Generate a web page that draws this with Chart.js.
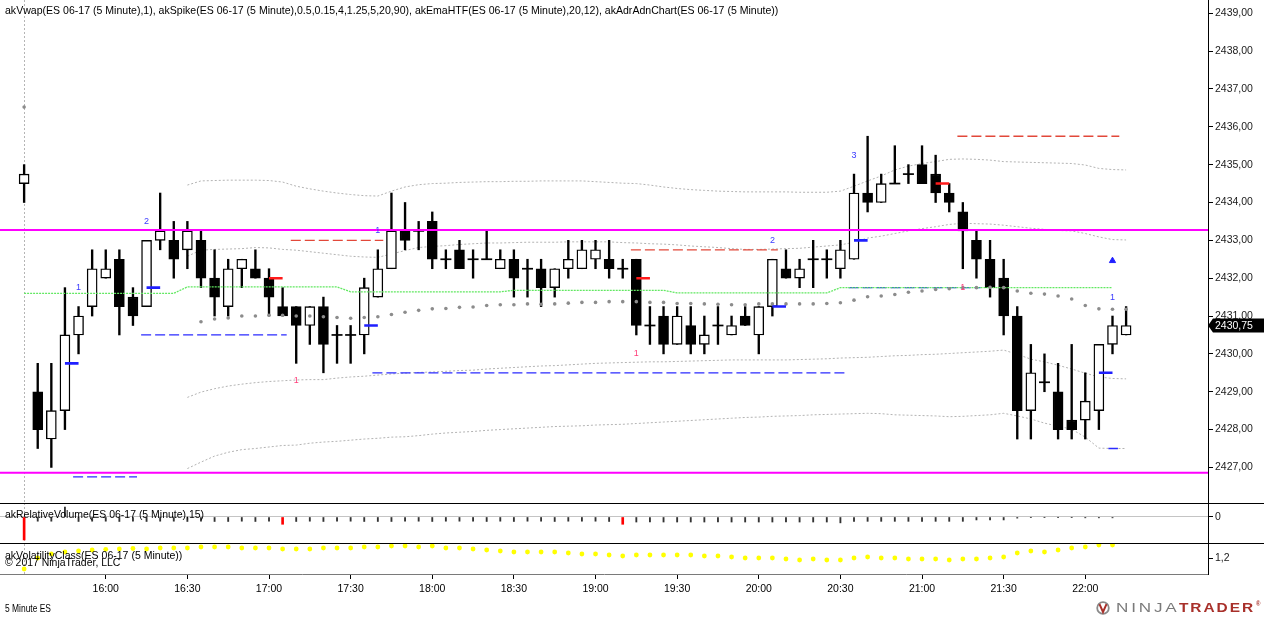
<!DOCTYPE html>
<html>
<head>
<meta charset="utf-8">
<title>ES 06-17 (5 Minute)</title>
<script src="https://cdn.jsdelivr.net/npm/chart.js@4.4.1/dist/chart.umd.min.js"></script>
<style>
  html, body { margin: 0; padding: 0; background: #fff; }
  #wrap { position: relative; width: 1264px; height: 617px; overflow: hidden; font-family: "Liberation Sans", Arial, sans-serif; }
  canvas { position: absolute; left: 0; }
  .lbl { position: absolute; white-space: nowrap; font-size: 11px; line-height: 12px; color: #000; transform-origin: 0 50%; }
  .sep { position: absolute; left: 0; width: 1264px; height: 1px; background: #000; }
  .logoA { color: #7a7a7a; font-size: 12px; letter-spacing: 2px; }
  .logoB { color: #a8302a; font-size: 12px; font-weight: bold; letter-spacing: 1.5px; }
</style>
</head>
<body>
<div id="wrap">
  <canvas id="priceChart" width="1264" height="503" style="top:0"></canvas>
  <canvas id="volChart" width="1264" height="41" style="top:503px"></canvas>
  <canvas id="vcChart" width="1264" height="73" style="top:544px"></canvas>
  <div class="sep" style="top:503px"></div>
  <div class="sep" style="top:543px"></div>

  <div class="lbl" data-x="5" data-cy="10" data-w="773">akVwap(ES 06-17 (5 Minute),1), akSpike(ES 06-17 (5 Minute),0.5,0.15,4,1.25,5,20,90), akEmaHTF(ES 06-17 (5 Minute),20,12), akAdrAdnChart(ES 06-17 (5 Minute))</div>
  <div class="lbl" data-x="5" data-cy="514" data-w="199">akRelativeVolume(ES 06-17 (5 Minute),15)</div>
  <div class="lbl" data-x="5" data-cy="554.5" data-w="177">akVolatilityClass(ES 06-17 (5 Minute))</div>
  <div class="lbl" data-x="5" data-cy="561.5" data-w="115">© 2017 NinjaTrader, LLC</div>
  <div class="lbl" data-x="5" data-cy="607.5" data-w="46">5 Minute ES</div>

  <svg style="position:absolute;left:1094px;top:601px" width="20" height="14" viewBox="0 0 20 14">
    <circle cx="9" cy="7" r="5.8" fill="none" stroke="#8a8a8a" stroke-width="1.8"/>
    <path d="M5.5 3.2 L9 11 L12.5 3.2" fill="none" stroke="#a8302a" stroke-width="2"/>
  </svg>
  <div class="lbl logoA" data-x="1116" data-cy="608" data-w="64">NINJA</div>
  <div class="lbl logoB" data-x="1179" data-cy="608" data-w="76">TRADER</div>
  <div class="lbl logoB" style="font-size:7px" data-x="1256" data-cy="604" data-w="6">®</div>
</div>

<script>
// bars start at 15:30, one every 5 minutes
const firstBarTime = '15:30';
const barMinutes = 5;
const timeLabels = ['16:00', '16:30', '17:00', '17:30', '18:00', '18:30', '19:00', '19:30', '20:00', '20:30', '21:00', '21:30', '22:00'];
const priceTicks = [2427, 2428, 2429, 2430, 2431, 2432, 2433, 2434, 2435, 2436, 2437, 2438, 2439];

const opens = [2434.5, 2429, 2427.75, 2428.5, 2430.5, 2431.25, 2432, 2432.5, 2431.5, 2431.25,
  2433, 2433, 2432.75, 2433, 2432, 2431.25, 2432.25, 2432.25, 2432, 2431.25,
  2431.25, 2430.75, 2431.25, 2430.5, 2430.5, 2430.5, 2431.5, 2432.25, 2433.25, 2433.25,
  2433.5, 2432.5, 2432.75, 2432.5, 2432.5, 2432.25, 2432.5, 2432.25, 2432.25, 2431.75,
  2432.25, 2432.25, 2432.5, 2432.5, 2432.25, 2432.5, 2430.75, 2431, 2430.25, 2430.75,
  2430.25, 2430.75, 2430.5, 2431, 2430.5, 2431.25, 2432.25, 2432, 2432.5, 2432.5,
  2432.25, 2432.5, 2434.25, 2434, 2434.5, 2434.75, 2435, 2434.75, 2434.25, 2433.75,
  2433, 2432.5, 2432, 2431, 2428.5, 2429.25, 2429, 2428.25, 2428.25, 2428.5,
  2430.25, 2430.5];
const highs = [2435, 2429.75, 2429.75, 2431.75, 2431.25, 2432.75, 2432.75, 2432.75, 2431.75, 2433,
  2434.25, 2433.5, 2433.5, 2433.25, 2432.75, 2432.5, 2432.5, 2432.75, 2432.25, 2431.75,
  2431.25, 2431.25, 2431.5, 2430.75, 2430.75, 2432, 2432.75, 2434.25, 2434, 2433.5,
  2433.75, 2432.75, 2433, 2432.75, 2433.25, 2432.75, 2432.75, 2432.5, 2432.5, 2432.25,
  2433, 2433, 2433, 2433, 2432.5, 2432.5, 2431.25, 2431.25, 2431.25, 2431.25,
  2431, 2431.25, 2431, 2431.25, 2431.25, 2432.5, 2432.75, 2432.5, 2433, 2432.75,
  2433, 2434.75, 2435.75, 2434.75, 2435.5, 2435, 2435.5, 2435.25, 2434.5, 2434,
  2433.25, 2433, 2432.5, 2431.25, 2430.25, 2430, 2429.75, 2430.25, 2429.5, 2430.25,
  2431, 2431.25];
const lows = [2434, 2427.5, 2427, 2428, 2430, 2431, 2432, 2430.5, 2430.75, 2431.25,
  2432.75, 2432, 2432.25, 2431.75, 2431, 2431, 2431.75, 2432, 2431, 2431,
  2429.75, 2430.25, 2429.5, 2429.75, 2429.75, 2430, 2431.5, 2432.25, 2432.75, 2432.75,
  2432.25, 2432.25, 2432.25, 2432, 2432.5, 2432.25, 2431.5, 2431.5, 2431.25, 2431.5,
  2432, 2432.25, 2432.25, 2432, 2432, 2430.5, 2430.25, 2430, 2430.25, 2430,
  2430, 2430.25, 2430.5, 2430.75, 2430, 2431, 2432, 2431.75, 2431.75, 2432,
  2432, 2432.5, 2433.75, 2434, 2434.5, 2434.5, 2434.5, 2434, 2433.75, 2432.25,
  2432, 2431.5, 2430.5, 2427.75, 2427.75, 2429, 2427.75, 2427.75, 2427.75, 2428,
  2430, 2430.5];
const closes = [2434.75, 2428, 2428.5, 2430.5, 2431, 2432.25, 2432.25, 2431.25, 2431, 2433,
  2433.25, 2432.5, 2433.25, 2432, 2431.5, 2432.25, 2432.5, 2432, 2431.5, 2431,
  2430.75, 2431.25, 2430.25, 2430.5, 2430.5, 2431.75, 2432.25, 2433.25, 2433, 2433.25,
  2432.5, 2432.5, 2432.25, 2432.5, 2432.5, 2432.5, 2432, 2432.25, 2431.75, 2432.25,
  2432.5, 2432.75, 2432.75, 2432.25, 2432.25, 2430.75, 2430.75, 2430.25, 2431, 2430.25,
  2430.5, 2430.75, 2430.75, 2430.75, 2431.25, 2432.5, 2432, 2432.25, 2432.5, 2432.5,
  2432.75, 2434.25, 2434, 2434.5, 2434.5, 2434.75, 2434.5, 2434.25, 2434, 2433.25,
  2432.5, 2431.75, 2431, 2428.5, 2429.5, 2429.25, 2428, 2428, 2428.75, 2430.25,
  2430.75, 2430.75];

// akVwap line (dots) and its bands
const vwap = [2436.52, null, null, null, null, null, null, null, null, null, null, null, null,
  2430.85, 2430.92, 2430.95, 2431.00, 2431.00, 2431.02, 2431.02, 2431.00, 2431.00, 2430.98,
  2430.96, 2430.94, 2430.96, 2430.98, 2431.04, 2431.10, 2431.15, 2431.19, 2431.20, 2431.23,
  2431.24, 2431.28, 2431.30, 2431.30, 2431.32, 2431.31, 2431.32, 2431.34, 2431.36, 2431.36,
  2431.38, 2431.38, 2431.38, 2431.36, 2431.36, 2431.33, 2431.33, 2431.32, 2431.31, 2431.30,
  2431.30, 2431.32, 2431.32, 2431.32, 2431.32, 2431.32, 2431.33, 2431.35, 2431.42, 2431.51,
  2431.53, 2431.57, 2431.63, 2431.66, 2431.70, 2431.72, 2431.75, 2431.75, 2431.76, 2431.75,
  2431.66, 2431.60, 2431.58, 2431.53, 2431.45, 2431.28, 2431.19, 2431.18, 2431.18];
const upperOuter = [null, null, null, null, null, null, null, null, null, null, null, null,
  2434.46, 2434.57, 2434.58, 2434.59, 2434.59, 2434.59, 2434.58, 2434.54, 2434.43, 2434.36,
  2434.30, 2434.25, 2434.21, 2434.18, 2434.17, 2434.30, 2434.41, 2434.47, 2434.50, 2434.51,
  2434.53, 2434.54, 2434.55, 2434.55, 2434.56, 2434.56, 2434.57, 2434.57, 2434.57, 2434.57,
  2434.55, 2434.53, 2434.51, 2434.50, 2434.46, 2434.41, 2434.37, 2434.34, 2434.32, 2434.30,
  2434.29, 2434.28, 2434.28, 2434.28, 2434.28, 2434.27, 2434.27, 2434.27, 2434.30, 2434.43,
  2434.57, 2434.70, 2434.86, 2434.96, 2435.03, 2435.08, 2435.14, 2435.15, 2435.14, 2435.12,
  2435.08, 2435.07, 2435.06, 2435.05, 2435.04, 2435.03, 2434.99, 2434.90, 2434.87, 2434.86];
const upperInner = [null, null, null, null, null, null, null, null, null, null, null, null,
  2432.58, 2432.74, 2432.76, 2432.77, 2432.78, 2432.81, 2432.80, 2432.76, 2432.74, 2432.70,
  2432.66, 2432.62, 2432.58, 2432.56, 2432.55, 2432.64, 2432.73, 2432.81, 2432.84, 2432.86,
  2432.89, 2432.91, 2432.93, 2432.93, 2432.94, 2432.95, 2432.95, 2432.95, 2432.96, 2432.96,
  2432.96, 2432.96, 2432.94, 2432.93, 2432.91, 2432.90, 2432.88, 2432.85, 2432.83, 2432.81,
  2432.78, 2432.76, 2432.76, 2432.77, 2432.78, 2432.79, 2432.82, 2432.85, 2432.88, 2432.95,
  2433.06, 2433.11, 2433.18, 2433.25, 2433.31, 2433.36, 2433.42, 2433.45, 2433.44, 2433.43,
  2433.40, 2433.36, 2433.32, 2433.29, 2433.26, 2433.25, 2433.18, 2433.09, 2433.02, 2433.01];
const lowerInner = [null, null, null, null, null, null, null, null, null, null, null, null,
  2428.85, 2428.99, 2429.08, 2429.15, 2429.20, 2429.24, 2429.27, 2429.29, 2429.31, 2429.32,
  2429.32, 2429.36, 2429.39, 2429.41, 2429.44, 2429.47, 2429.49, 2429.51, 2429.52, 2429.54,
  2429.56, 2429.57, 2429.60, 2429.62, 2429.64, 2429.66, 2429.68, 2429.69, 2429.71, 2429.73,
  2429.75, 2429.76, 2429.77, 2429.78, 2429.79, 2429.79, 2429.80, 2429.81, 2429.82, 2429.83,
  2429.84, 2429.84, 2429.84, 2429.84, 2429.84, 2429.85, 2429.86, 2429.87, 2429.89, 2429.90,
  2429.91, 2429.93, 2429.95, 2429.96, 2429.98, 2429.99, 2430.01, 2430.03, 2430.05, 2430.07,
  2430.10, 2429.99, 2429.86, 2429.79, 2429.70, 2429.60, 2429.49, 2429.39, 2429.35, 2429.34];
const lowerOuter = [null, null, null, null, null, null, null, null, null, null, null, null,
  2426.97, 2427.14, 2427.30, 2427.40, 2427.47, 2427.50, 2427.54, 2427.58, 2427.59, 2427.64,
  2427.67, 2427.69, 2427.72, 2427.75, 2427.77, 2427.80, 2427.81, 2427.84, 2427.88, 2427.91,
  2427.93, 2427.95, 2427.98, 2428.00, 2428.02, 2428.04, 2428.06, 2428.08, 2428.09, 2428.10,
  2428.12, 2428.13, 2428.14, 2428.16, 2428.18, 2428.20, 2428.22, 2428.24, 2428.26, 2428.28,
  2428.30, 2428.32, 2428.33, 2428.35, 2428.36, 2428.37, 2428.39, 2428.40, 2428.41, 2428.42,
  2428.43, 2428.42, 2428.39, 2428.38, 2428.37, 2428.36, 2428.34, 2428.35, 2428.37, 2428.39,
  2428.43, 2428.36, 2428.28, 2428.17, 2428.09, 2428.01, 2427.80, 2427.51, 2427.50, 2427.50];

// akEmaHTF (hourly ema, steps every 12 bars)
const emaHtf = [2431.60, 2431.60, 2431.60, 2431.60, 2431.60, 2431.60, 2431.60, 2431.60, 2431.60, 2431.60, 2431.60, 2431.60,
  2431.77, 2431.77, 2431.77, 2431.77, 2431.77, 2431.77, 2431.77, 2431.77, 2431.77, 2431.77, 2431.77, 2431.77,
  2431.64, 2431.64, 2431.64, 2431.64, 2431.64, 2431.64, 2431.64, 2431.64, 2431.64, 2431.64, 2431.64, 2431.64,
  2431.68, 2431.68, 2431.68, 2431.68, 2431.68, 2431.68, 2431.68, 2431.68, 2431.68, 2431.68, 2431.68, 2431.68,
  2431.61, 2431.61, 2431.61, 2431.61, 2431.61, 2431.61, 2431.61, 2431.61, 2431.61, 2431.61, 2431.61, 2431.61,
  2431.75, 2431.75, 2431.75, 2431.75, 2431.75, 2431.75, 2431.75, 2431.75, 2431.75, 2431.75, 2431.75, 2431.75,
  2431.75, 2431.75, 2431.75, 2431.75, 2431.75, 2431.75, 2431.75, 2431.75, 2431.75, null];

// akAdrAdnChart levels
const adrLevels = [2433.27, 2426.86];

// akSpike levels: [from bar, to bar, price]
const spikeLevelsBlue = [[3.6, 8.3, 2426.75], [8.6, 19.3, 2430.5], [25.6, 60.4, 2429.5], [60.6, 70.3, 2431.75], [79.7, 80.4, 2427.5]];
const spikeLevelsRed = [[19.6, 26.4, 2433.0], [44.6, 55.4, 2432.75], [68.6, 80.5, 2435.75]];
// spike markers: [bar, price]
const spikeMarksBlue = [[3, 2429.75], [9, 2431.75], [25, 2430.75], [55, 2431.25], [61, 2433.0], [79, 2429.5]];
const spikeMarksRed = [[18, 2432.0], [45, 2432.0], [67, 2434.5]];
const spikeCountsBlue = [[4, 2431.75, '1'], [9, 2433.5, '2'], [26, 2433.25, '1'], [55, 2433.0, '2'], [61, 2435.25, '3'], [80, 2431.5, '1']];
const spikeCountsRed = [[20, 2429.3, '1'], [45, 2430.0, '1'], [69, 2431.75, '1']];
const triangleUp = [[80, 2432.46]];

const relVolume = [-1.64, -0.30, -0.30, 0.70, -0.32, -0.30, -0.30, -0.32, -0.30, -0.32,
  -0.30, -0.30, -0.32, -0.30, -0.32, -0.32, -0.30, -0.32, -0.30, -0.52,
  -0.32, -0.30, -0.32, -0.30, -0.30, -0.32, -0.32, -0.32, -0.30, -0.30,
  -0.32, -0.30, -0.30, -0.30, -0.32, -0.30, -0.32, -0.30, -0.30, -0.32,
  -0.30, -0.30, -0.30, -0.32, -0.52, -0.36, -0.36, -0.36, -0.36, -0.36,
  -0.36, -0.36, -0.36, -0.36, -0.36, -0.36, -0.36, -0.36, -0.36, -0.36,
  -0.42, -0.31, -0.31, -0.31, -0.31, -0.31, -0.31, -0.31, -0.31, -0.31,
  -0.21, -0.21, -0.21, -0.08, -0.02, -0.02, -0.02, -0.02, -0.06, -0.06,
  -0.06, null];

const volClass = [1.09, 1.20, 1.24, 1.26, 1.27, 1.28, 1.287, 1.29, 1.295, 1.29,
  1.30, 1.30, 1.30, 1.31, 1.31, 1.31, 1.30, 1.30, 1.30, 1.29,
  1.29, 1.29, 1.30, 1.30, 1.30, 1.31, 1.31, 1.32, 1.32, 1.31,
  1.32, 1.30, 1.30, 1.29, 1.28, 1.27, 1.26, 1.26, 1.26, 1.26,
  1.25, 1.24, 1.24, 1.23, 1.22, 1.23, 1.23, 1.23, 1.23, 1.23,
  1.22, 1.22, 1.21, 1.20, 1.20, 1.20, 1.19, 1.18, 1.19, 1.18,
  1.18, 1.20, 1.21, 1.20, 1.20, 1.19, 1.19, 1.19, 1.18, 1.19,
  1.19, 1.20, 1.21, 1.25, 1.27, 1.26, 1.28, 1.30, 1.31, 1.33,
  1.33, null];

// ---------- layout helpers ----------
const xMin = -1.773, xMax = 87.02;
const axisWidth = 56;
const FONT = '"Liberation Sans", Arial, sans-serif';
Chart.defaults.font.family = FONT;
Chart.defaults.font.size = 10.5;
Chart.defaults.color = '#111';

function timeToBar(t) {
  const [h, m] = t.split(':').map(Number);
  const [h0, m0] = firstBarTime.split(':').map(Number);
  return ((h * 60 + m) - (h0 * 60 + m0)) / barMinutes;
}
function fmtPrice(v) { return v.toFixed(2).replace('.', ','); }
function series(arr) { return arr.map((v, i) => ({ x: i, y: v })).filter(p => p.y !== null); }
function segments(list) {
  const out = [];
  list.forEach(([a, b, p]) => { out.push({ x: a, y: p }, { x: b, y: p }, { x: b, y: null }); });
  return out;
}
function fixY(scale) { scale.width = axisWidth; scale.paddingTop = 0; scale.paddingBottom = 0; }

const hiddenX = { type: 'linear', min: xMin, max: xMax, display: false, offset: false };
const baseOpts = {
  responsive: false, animation: false, events: [],
  layout: { padding: 0, autoPadding: false },
  plugins: { legend: { display: false }, tooltip: { enabled: false } }
};

// dashed session break at the first bar
const sessionLine = {
  id: 'sessionLine',
  beforeDatasetsDraw(chart) {
    const { ctx, chartArea } = chart;
    const x = Math.round(chart.scales.x.getPixelForValue(0)) + 0.5;
    ctx.save();
    ctx.strokeStyle = '#b5b5b5';
    ctx.lineWidth = 1;
    ctx.setLineDash([2, 2]);
    ctx.beginPath();
    ctx.moveTo(x, chartArea.top);
    ctx.lineTo(x, chartArea.bottom);
    ctx.stroke();
    ctx.restore();
  }
};

// little spike counters drawn as text
const countLabels = {
  id: 'countLabels',
  afterDatasetsDraw(chart) {
    const { ctx } = chart;
    const xs = chart.scales.x, ys = chart.scales.y;
    ctx.save();
    ctx.font = '9px ' + FONT;
    ctx.textAlign = 'center';
    ctx.textBaseline = 'middle';
    ctx.fillStyle = '#3a3aff';
    spikeCountsBlue.forEach(([b, p, t]) => ctx.fillText(t, xs.getPixelForValue(b), ys.getPixelForValue(p)));
    ctx.fillStyle = '#ff3d7a';
    spikeCountsRed.forEach(([b, p, t]) => ctx.fillText(t, xs.getPixelForValue(b), ys.getPixelForValue(p)));
    ctx.restore();
  }
};

// last price flag on the price axis
const lastPrice = {
  id: 'lastPrice',
  afterDraw(chart) {
    const { ctx, chartArea } = chart;
    const last = closes[closes.length - 1];
    const y = chart.scales.y.getPixelForValue(last);
    const x0 = chartArea.right;
    ctx.save();
    ctx.fillStyle = '#000';
    ctx.beginPath();
    ctx.moveTo(x0, y);
    ctx.lineTo(x0 + 5, y - 7);
    ctx.lineTo(chart.width, y - 7);
    ctx.lineTo(chart.width, y + 7);
    ctx.lineTo(x0 + 5, y + 7);
    ctx.closePath();
    ctx.fill();
    ctx.fillStyle = '#fff';
    ctx.font = '10.5px ' + FONT;
    ctx.textBaseline = 'middle';
    ctx.fillText(fmtPrice(last), x0 + 7, y + 0.5);
    ctx.restore();
  }
};

// ---------- price panel ----------
const bodyData = [], dojiData = [], wickData = [];
opens.forEach((o, i) => {
  wickData.push({ x: i, y: [lows[i], highs[i]] });
  if (o === closes[i]) dojiData.push({ x: i, y: o });
  else bodyData.push({ x: i, y: [o, closes[i]], up: closes[i] > o });
});

const bandStyle = { type: 'line', borderColor: '#b3b3b3', borderWidth: 1, borderDash: [2, 2], pointRadius: 0, order: 9 };

new Chart(document.getElementById('priceChart'), {
  type: 'bar',
  data: {
    datasets: [
      Object.assign({ data: series(upperOuter) }, bandStyle),
      Object.assign({ data: series(upperInner) }, bandStyle),
      Object.assign({ data: series(lowerInner) }, bandStyle),
      Object.assign({ data: series(lowerOuter) }, bandStyle),
      { type: 'line', data: segments(spikeLevelsBlue), borderColor: '#2b2bff', borderWidth: 1.3, borderDash: [10, 4], pointRadius: 0, order: 8 },
      { type: 'line', data: segments(spikeLevelsRed), borderColor: '#e2483a', borderWidth: 1.3, borderDash: [10, 4], pointRadius: 0, order: 8 },
      { type: 'bar', data: wickData, backgroundColor: '#000', borderWidth: 0, barThickness: 1.7, grouped: false, order: 7 },
      { type: 'bar', data: bodyData, backgroundColor: c => (c.raw && c.raw.up ? '#fff' : '#000'),
        borderColor: '#000', borderWidth: 1.4, borderSkipped: false, barThickness: 10, grouped: false, order: 6 },
      { type: 'line', data: dojiData, showLine: false, pointStyle: 'line', pointRadius: 5.5,
        pointBorderColor: '#000', pointBorderWidth: 1.7, order: 5 },
      { type: 'line', data: series(emaHtf), borderColor: '#62e862', borderWidth: 1.3, borderDash: [2, 1], pointRadius: 0, order: 4 },
      { type: 'line', data: series(vwap), showLine: false, pointRadius: 1.8, pointBackgroundColor: '#8c8c8c', pointBorderWidth: 0, order: 3 },
      { type: 'line', data: segments(adrLevels.map(p => [xMin, xMax, p])), borderColor: '#ff00ff', borderWidth: 2, pointRadius: 0, order: 2 },
      { type: 'line', data: segments(spikeMarksBlue.map(([b, p]) => [b, b + 1, p])), borderColor: '#1f1fff', borderWidth: 2.6, pointRadius: 0, order: 1 },
      { type: 'line', data: segments(spikeMarksRed.map(([b, p]) => [b, b + 1, p])), borderColor: '#ff1a1a', borderWidth: 2.6, pointRadius: 0, order: 1 },
      { type: 'line', data: triangleUp.map(([b, p]) => ({ x: b, y: p })), showLine: false, pointStyle: 'triangle',
        pointRadius: 3.6, pointBackgroundColor: '#2020ff', pointBorderColor: '#2020ff', order: 0 }
    ]
  },
  options: Object.assign({}, baseOpts, {
    scales: {
      x: hiddenX,
      y: {
        position: 'right', min: 2426.06, max: 2439.35,
        afterBuildTicks: s => { s.ticks = priceTicks.map(v => ({ value: v })); },
        afterFit: fixY,
        ticks: { callback: v => fmtPrice(v), padding: 2, color: '#1a1a1a' },
        grid: { drawOnChartArea: false, tickLength: 5, tickColor: '#000' },
        border: { color: '#000' }
      }
    }
  }),
  plugins: [sessionLine, countLabels, lastPrice]
});

// ---------- relative volume panel ----------
new Chart(document.getElementById('volChart'), {
  type: 'bar',
  data: {
    datasets: [
      { data: series(relVolume).filter(p => p.y > -0.5), backgroundColor: '#333', barThickness: 1.2, grouped: false },
      { data: series(relVolume).filter(p => p.y <= -0.5), backgroundColor: '#ff0000', barThickness: 2, grouped: false }
    ]
  },
  options: Object.assign({}, baseOpts, {
    scales: {
      x: hiddenX,
      y: {
        position: 'right', min: -1.93, max: 1,
        afterBuildTicks: s => { s.ticks = [{ value: 0 }]; },
        afterFit: fixY,
        ticks: { callback: () => '0', padding: 2, color: '#1a1a1a' },
        grid: { color: '#c4c4c4', tickColor: '#000', tickLength: 5 },
        border: { color: '#000' }
      }
    }
  }),
  plugins: [sessionLine]
});

// ---------- volatility class panel + time axis ----------
new Chart(document.getElementById('vcChart'), {
  type: 'line',
  data: {
    datasets: [
      { data: series(volClass), showLine: false, pointRadius: 2.4, pointBackgroundColor: '#ffff00', pointBorderWidth: 0 }
    ]
  },
  options: Object.assign({}, baseOpts, {
    scales: {
      x: {
        type: 'linear', min: xMin, max: xMax, position: 'bottom', offset: false,
        afterBuildTicks: s => { s.ticks = timeLabels.map(t => ({ value: timeToBar(t) })); },
        afterFit: s => { s.height = 43; s.paddingLeft = 0; s.paddingRight = 0; },
        ticks: {
          callback: v => timeLabels.find(t => timeToBar(t) === v) || '',
          autoSkip: false, maxRotation: 0, padding: 4, color: '#000'
        },
        grid: { drawOnChartArea: false, tickLength: 5, tickColor: '#000' },
        border: { color: '#7a7a7a' }
      },
      y: {
        position: 'right', min: 1.04, max: 1.34,
        afterBuildTicks: s => { s.ticks = [{ value: 1.2 }]; },
        afterFit: fixY,
        ticks: { callback: v => String(v).replace('.', ','), padding: 2, color: '#1a1a1a' },
        grid: { drawOnChartArea: false, tickLength: 5, tickColor: '#000' },
        border: { color: '#000' }
      }
    }
  }),
  plugins: [sessionLine]
});

// place and squeeze the text labels to the widths of the original
document.querySelectorAll('.lbl').forEach(el => {
  const w = el.scrollWidth;
  el.style.left = el.dataset.x + 'px';
  el.style.top = (parseFloat(el.dataset.cy) - el.offsetHeight / 2) + 'px';
  el.style.transform = 'scaleX(' + (parseFloat(el.dataset.w) / w).toFixed(3) + ')';
});
</script>
</body>
</html>
